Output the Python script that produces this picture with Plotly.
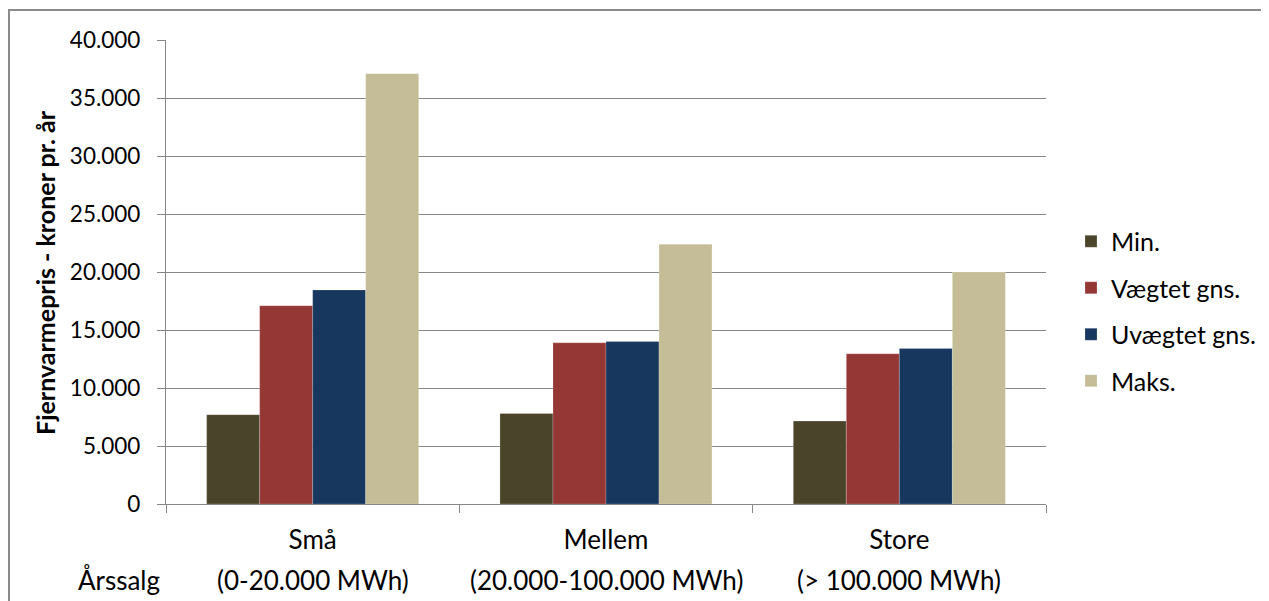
import plotly.graph_objects as go

categories = ["Små", "Mellem", "Store"]
sub_labels = ["(0-20.000 MWh)", "(20.000-100.000 MWh)", "(> 100.000 MWh)"]
series_names = ["Min.", "Vægtet gns.", "Uvægtet gns.", "Maks."]
min_vals = [7700, 7800, 7150]
vaegtet_vals = [17100, 13900, 12950]
uvaegtet_vals = [18450, 14000, 13400]
maks_vals = [37100, 22400, 20000]
colors = ["#4A452A", "#953735", "#17375E", "#C4BD97"]
y_ticks = [0, 5000, 10000, 15000, 20000, 25000, 30000, 35000, 40000]
y_title = "Fjernvarmepris - kroner pr. år"
x_prefix = "Årssalg"

FONT = "Lato"
# page has an 8px body margin, so the figure is drawn offset by 8px
OFF = 8
W, H = 1269 - OFF, 601 - OFF
PL, PR, PT, PB = 166, 1046, 40, 504  # plot area in screen px
ML, MT = PL - OFF, PT - OFF
PW, PH = PR - PL, PB - PT
MR, MB = W - ML - PW, H - MT - PH

def px_x(px):
    return (px - PL) / PW

def px_y(py):
    return (PB - py) / PH

fig = go.Figure()
for i, (name, vals) in enumerate(zip(series_names, [min_vals, vaegtet_vals, uvaegtet_vals, maks_vals])):
    fig.add_trace(go.Bar(
        x=categories, y=vals, name=name,
        marker=dict(color=colors[i], line=dict(color="rgba(255,255,255,0.35)", width=0.6)),
        legendgroup=name,
    ))

annotations = []
for cat, sub in zip(categories, sub_labels):
    annotations.append(dict(x=cat, xref="x", y=px_y(580), yref="paper", text=sub,
                            showarrow=False, xanchor="center", yanchor="middle",
                            font=dict(family=FONT, size=26, color="#000000")))
annotations.append(dict(x=px_x(119), xref="paper", y=px_y(580), yref="paper", text=x_prefix,
                        showarrow=False, xanchor="center", yanchor="middle",
                        font=dict(family=FONT, size=26, color="#000000")))
annotations.append(dict(x=px_x(45), xref="paper", y=px_y(272), yref="paper", text="<b>" + y_title + "</b>",
                        showarrow=False, textangle=-90, xanchor="center", yanchor="middle",
                        font=dict(family=FONT, size=25, color="#000000")))

fig.update_layout(
    width=W, height=H,
    margin=dict(l=ML, r=MR, t=MT, b=MB, autoexpand=False),
    paper_bgcolor="white", plot_bgcolor="white",
    separators=",.",
    barmode="group", bargap=0.277, bargroupgap=0,
    font=dict(family=FONT, size=24, color="#000000"),
    showlegend=True,
    legend=dict(x=px_x(1071), xanchor="left", y=px_y(311), yanchor="middle",
                font=dict(family=FONT, size=25, color="#000000"),
                tracegroupgap=11, bgcolor="rgba(0,0,0,0)", itemwidth=30),
    annotations=annotations,
    shapes=[dict(type="rect", xref="paper", yref="paper",
                 x0=px_x(9), x1=px_x(1300), y0=px_y(640), y1=px_y(10),
                 line=dict(color="#8C8C8C", width=2), fillcolor="rgba(0,0,0,0)", layer="below")],
)
fig.update_yaxes(range=[0, 40000], tickvals=y_ticks, tickformat=",d",
                 showgrid=True, gridcolor="#878787", gridwidth=1.2,
                 showline=True, linecolor="#878787", linewidth=1.2,
                 ticks="outside", ticklen=8, tickcolor="#878787", tickwidth=1.2,
                 ticklabelstandoff=12, zeroline=False,
                 tickfont=dict(family=FONT, size=22.5, color="#000000"))
fig.update_xaxes(showline=True, linecolor="#878787", linewidth=1.2,
                 ticks="outside", ticklen=8, tickcolor="#878787", tickwidth=1.2,
                 tickson="boundaries", ticklabelstandoff=13,
                 tickfont=dict(family=FONT, size=26, color="#000000"))

fig.write_html("out.html")
